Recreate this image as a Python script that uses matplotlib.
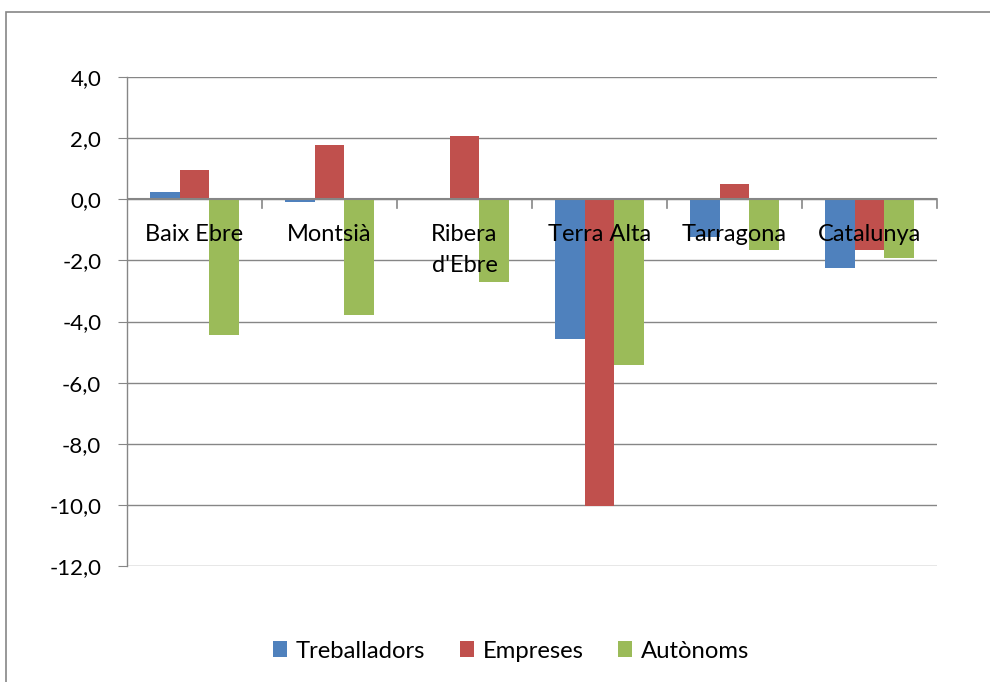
import matplotlib

matplotlib.use("Agg")
import matplotlib.pyplot as plt
from matplotlib.patches import Rectangle
from matplotlib.ticker import FuncFormatter, MultipleLocator

plt.rcParams["font.family"] = ["Lato", "DejaVu Sans"]

BLUE, RED, GREEN = "#4F81BD", "#C0504D", "#9BBB59"
GRID = "#868686"

comarques = ["Baix Ebre", "Montsià", "Ribera\nd'Ebre", "Terra Alta", "Tarragona", "Catalunya"]
series = ["Treballadors", "Empreses", "Autònoms"]
treballadors = [0.23, -0.08, 0.0, -4.56, -1.25, -2.24]
empreses = [0.97, 1.77, 2.08, -10.03, 0.51, -1.67]
autonoms = [-4.45, -3.80, -2.71, -5.41, -1.67, -1.92]

fig = plt.figure(figsize=(9.9, 6.82), dpi=100)
ax = fig.add_axes([127 / 990, 1 - 566 / 682, 810 / 990, 489 / 682])

# outer chart border, cut by the right and bottom edges of the image
fig.patches.append(Rectangle((6 / 990, -0.5), 2, 0.5 + 1 - 12 / 682,
                             transform=fig.transFigure, fill=False,
                             edgecolor=GRID, lw=1.2))

w = 0.222
x = list(range(len(comarques)))
for k, (vals, col) in enumerate(zip([treballadors, empreses, autonoms],
                                    [BLUE, RED, GREEN])):
    ax.bar([i + (k - 1) * w for i in x], vals, width=w, color=col,
           label=series[k], zorder=2)

ax.set_xlim(-0.5, len(comarques) - 0.5)
ax.set_ylim(-12, 4)
ax.yaxis.set_major_locator(MultipleLocator(2))
ax.yaxis.set_major_formatter(FuncFormatter(lambda v, _: f"{v:.1f}".replace(".", ",")))
ax.grid(axis="y", color=GRID, lw=1, zorder=0)
ax.tick_params(axis="y", length=6.5, color=GRID, labelsize=16, pad=12)
for s in ("top", "right", "bottom"):
    ax.spines[s].set_visible(False)
ax.spines["left"].set_color(GRID)
ax.spines["left"].set_linewidth(1)

# category axis sits at zero, tick marks at group boundaries
ax.axhline(0, color=GRID, lw=1.5, zorder=3)
ax.set_xticks([])
for b in [i + 0.5 for i in x]:
    ax.plot([b, b], [0, -0.27], color=GRID, lw=1.2, zorder=3, clip_on=False)
for i, name in zip(x, comarques):
    ax.text(i, -0.82, name, ha="center", va="top", fontsize=17,
            linespacing=1.55, zorder=4)

ax.legend(loc="center", bbox_to_anchor=(511 / 990, 1 - 651 / 682),
          bbox_transform=fig.transFigure, ncol=3, frameon=False,
          fontsize=17.2, handlelength=0.6, handleheight=0.6,
          handletextpad=0.35, columnspacing=1.45)

fig.savefig("out.png", dpi=100, facecolor="white")
